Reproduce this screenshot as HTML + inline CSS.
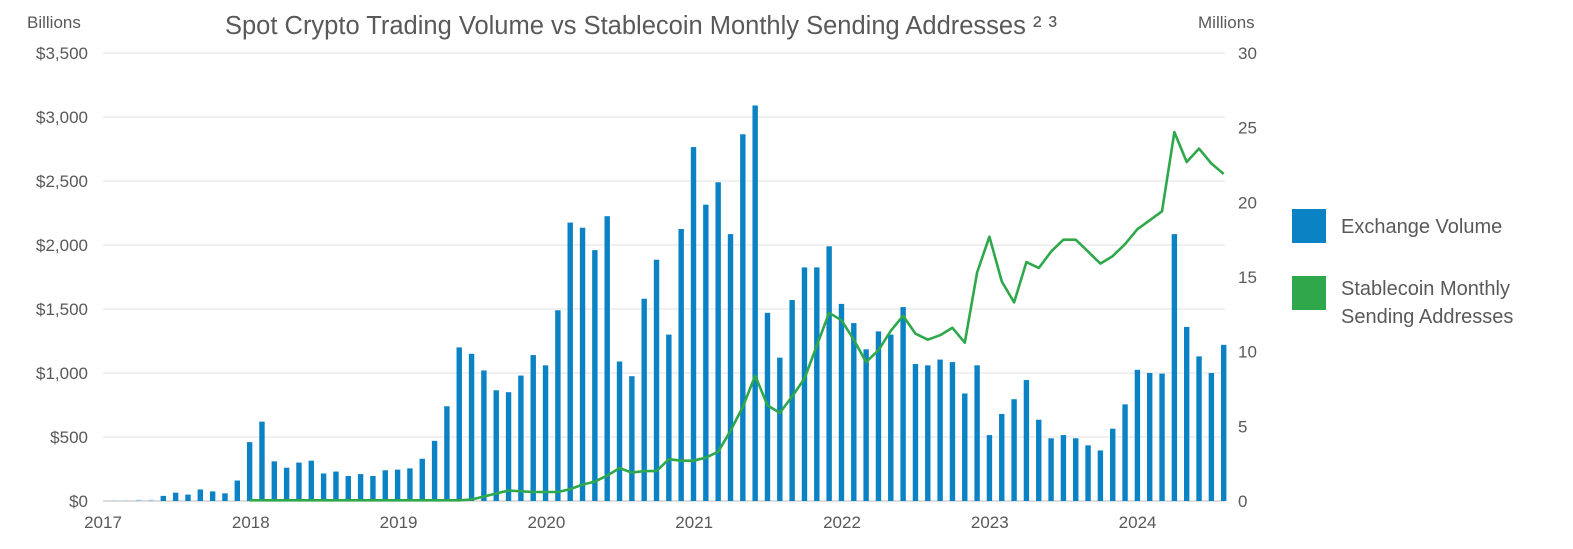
<!DOCTYPE html>
<html><head><meta charset="utf-8"><style>
body{margin:0;background:#fff;width:1573px;height:544px;overflow:hidden;font-family:"Liberation Sans",sans-serif;}
svg text{font-family:"Liberation Sans",sans-serif;fill:#595959;}
</style></head><body>
<svg id="chart" width="1573" height="544">
<text x="641" y="34" text-anchor="middle" font-size="25.5">Spot Crypto Trading Volume vs Stablecoin Monthly Sending Addresses ² ³</text>
<text x="27" y="28" font-size="17">Billions</text>
<text x="1198" y="28" font-size="17">Millions</text>
<g id="grid"></g><g id="bars"></g><g id="line"></g><g id="axes"></g>
<rect x="1292" y="209" width="34" height="34" fill="#0a82c4"/>
<text x="1341" y="233" font-size="20">Exchange Volume</text>
<rect x="1292" y="276" width="34" height="34" fill="#2ea84a"/>
<text x="1341" y="295" font-size="20">Stablecoin Monthly</text>
<text x="1341" y="323" font-size="20">Sending Addresses</text>
</svg>
<script>
const volume=[5,5,10,10,40,65,50,90,75,60,160,460,
620,310,260,300,315,215,230,195,210,195,240,245,
255,330,470,740,1200,1150,1020,865,850,980,1140,1060,
1490,2175,2135,1960,2225,1090,975,1580,1885,1300,2125,2765,
2315,2490,2085,2865,3090,1470,1120,1570,1825,1825,1990,1540,
1390,1185,1325,1300,1515,1070,1060,1105,1085,840,1060,515,
680,795,945,635,490,515,490,435,395,565,755,1025,
1000,995,2085,1360,1130,1000,1220];
const lineStart=11;
const addresses=[0.05,0.05,0.05,0.05,0.05,0.05,0.05,0.05,0.05,0.05,0.05,0.05,0.05,0.05,0.05,0.05,0.05,0.05,
0.1,0.3,0.5,0.7,0.65,0.6,0.6,
0.6,0.8,1.1,1.3,1.7,2.2,1.9,2.0,2.0,2.8,2.7,2.7,
2.9,3.3,4.7,6.3,8.4,6.4,5.9,7.0,8.2,10.4,12.6,12.1,
10.8,9.3,10.1,11.4,12.4,11.2,10.8,11.1,11.6,10.6,15.3,17.7,
14.7,13.3,16.0,15.6,16.7,17.5,17.5,16.7,15.9,16.4,17.2,18.2,
18.8,19.4,24.7,22.7,23.6,22.6,21.9];
const leftTicks=["$0","$500","$1,000","$1,500","$2,000","$2,500","$3,000","$3,500"];
const rightTicks=["0","5","10","15","20","25","30"];
const years=["2017","2018","2019","2020","2021","2022","2023","2024"];
const NS="http://www.w3.org/2000/svg";
const X0=114,DX=12.33,Y0=501,YT=53;
const xm=i=>X0+i*DX;
const yl=v=>Y0-(v/3500)*(Y0-YT);
const yr=v=>Y0-(v/30)*(Y0-YT);
function mk(t,a,p){const e=document.createElementNS(NS,t);for(const k in a)e.setAttribute(k,a[k]);document.getElementById(p).appendChild(e);return e;}
leftTicks.forEach((t,i)=>{const y=yl(i*500);
const g=mk('line',{x1:103,x2:1225,y1:y,y2:y,stroke:i==0?'#bbb':'#e0e0e0','stroke-width':1},'grid');


const tx=mk('text',{x:88,y:y+6,'text-anchor':'end','font-size':17},'axes');tx.textContent=t;

});
rightTicks.forEach((t,i)=>{const y=yr(i*5);
const tx=mk('text',{x:1238,y:y+6,'font-size':17},'axes');tx.textContent=t;

});
years.forEach((t,i)=>{const tx=mk('text',{x:103+i*147.8,y:528,'text-anchor':'middle','font-size':17},'axes');tx.textContent=t;

});
volume.forEach((v,i)=>{const y=yl(v);
const r=mk('rect',{x:xm(i)-2.7,y:y,width:5.4,height:Y0-y,fill:i<4?'#9cc9e6':'#0a82c4'},'bars');

});
const pts=addresses.map((v,i)=>xm(i+lineStart).toFixed(1)+','+yr(v).toFixed(1)).join(' ');
const pl=mk('polyline',{points:pts,fill:'none',stroke:'#2ea84a','stroke-width':2.6,'stroke-linejoin':'round'},'line');


</script>
</body></html>
